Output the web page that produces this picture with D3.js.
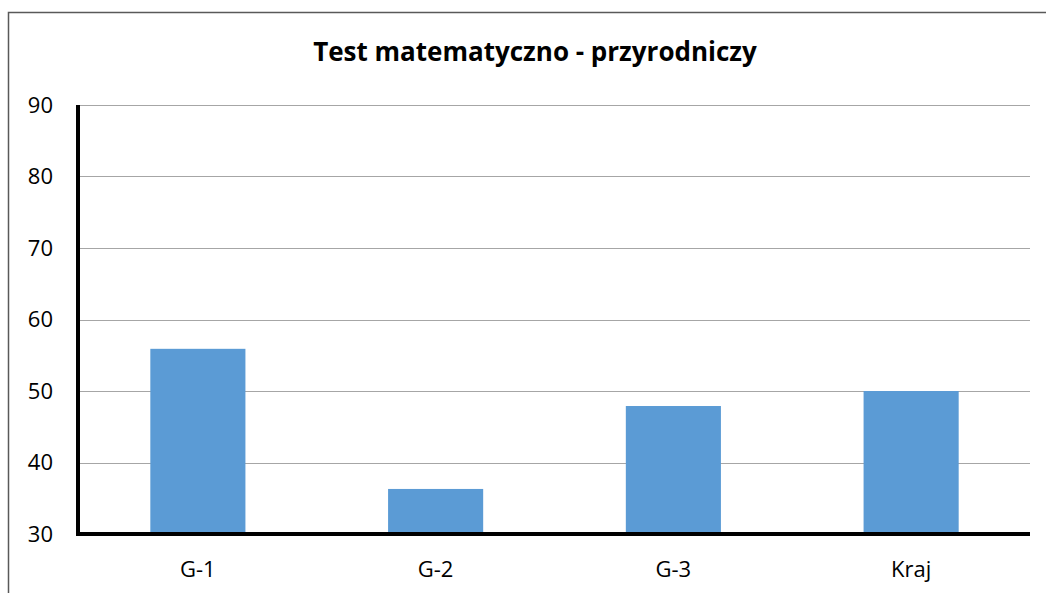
<!DOCTYPE html>
<meta charset="utf-8">
<style>
body { margin: 0; background: #fff; }
text { font-family: "Open Sans", "Noto Sans", sans-serif; fill: #000; }
.grid line { stroke: #a6a6a6; stroke-width: 1px; }
</style>
<svg width="1046" height="593"></svg>
<script src="https://cdn.jsdelivr.net/npm/d3@7"></script>
<script>
// chart values
var categories = ["G-1", "G-2", "G-3", "Kraj"];
var scores = [55.9, 36.3, 47.9, 50.0];
var yTicks = [30, 40, 50, 60, 70, 80, 90];
var title = "Test matematyczno - przyrodniczy";

var svg = d3.select("svg"),
    margin = {top: 105, right: 16, bottom: 59, left: 79},
    width = 1030 - margin.left,
    height = 534 - margin.top;

// outer frame, right and bottom edges fall outside the picture
svg.append("rect")
    .attr("x", 8.5).attr("y", 12.5)
    .attr("width", 1060).attr("height", 620)
    .attr("fill", "none")
    .attr("stroke", "#595959")
    .attr("stroke-width", 1.5);

var g = svg.append("g")
    .attr("transform", "translate(" + margin.left + "," + margin.top + ")");

var x = d3.scaleBand()
    .domain(categories)
    .range([0, width])
    .paddingInner(0.6)
    .paddingOuter(0.3);

var y = d3.scaleLinear()
    .domain([30, 90])
    .range([height, 0]);

// gridlines
g.append("g")
    .attr("class", "grid")
  .selectAll("line")
  .data(yTicks.filter(function(d) { return d > 30; }))
  .enter().append("line")
    .attr("x1", 0)
    .attr("x2", width)
    .attr("y1", function(d) { return Math.round(y(d)) + 0.5; })
    .attr("y2", function(d) { return Math.round(y(d)) + 0.5; });

// bars
g.selectAll(".bar")
  .data(scores)
  .enter().append("rect")
    .attr("class", "bar")
    .attr("x", function(d, i) { return x(categories[i]); })
    .attr("width", x.bandwidth())
    .attr("y", function(d) { return y(d); })
    .attr("height", function(d) { return height - y(d); })
    .attr("fill", "#5b9bd5");

// y axis
var yAxis = g.append("g")
    .call(d3.axisLeft(y).tickValues(yTicks).tickSize(0).tickPadding(26));
yAxis.select(".domain").remove();
yAxis.selectAll("text")
    .style("font-size", "22px")
    .attr("fill", "#000");

// x axis
var xAxis = g.append("g")
    .attr("transform", "translate(0," + height + ")")
    .call(d3.axisBottom(x).tickSize(0).tickPadding(27));
xAxis.select(".domain").remove();
xAxis.selectAll("text")
    .style("font-size", "22px")
    .attr("fill", "#000");

// thick axis lines
g.append("line")
    .attr("x1", -1).attr("x2", -1)
    .attr("y1", 0).attr("y2", height + 2)
    .attr("stroke", "#000").attr("stroke-width", 4);
g.append("line")
    .attr("x1", -3).attr("x2", width)
    .attr("y1", height).attr("y2", height)
    .attr("stroke", "#000").attr("stroke-width", 4);

svg.append("text")
    .attr("x", 535)
    .attr("y", 61)
    .attr("text-anchor", "middle")
    .style("font-size", "26px")
    .style("font-weight", "bold")
    .text(title);
</script>
